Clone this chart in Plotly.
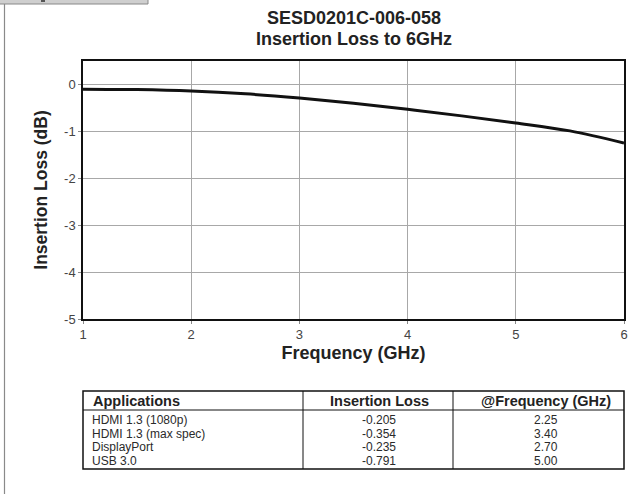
import plotly.graph_objects as go

# ---- data ----
freq_ghz = [1.0, 1.5, 2.0, 2.5, 3.0, 3.5, 4.0, 4.5, 5.0, 5.5, 6.0]
insertion_loss_db = [-0.10, -0.11, -0.14, -0.20, -0.29, -0.40, -0.53, -0.67, -0.82, -0.99, -1.25]

x_ticks = [1, 2, 3, 4, 5, 6]
y_ticks = [0, -1, -2, -3, -4, -5]

table_header = ["Applications", "Insertion Loss", "@Frequency (GHz)"]
applications = ["HDMI 1.3 (1080p)", "HDMI 1.3 (max spec)", "DisplayPort", "USB 3.0"]
app_loss = ["-0.205", "-0.354", "-0.235", "-0.791"]
app_freq = ["2.25", "3.40", "2.70", "5.00"]

title_lines = ["SESD0201C-006-058", "Insertion Loss to 6GHz"]

# ---- layout geometry (pixels) ----
W, H = 644, 494
L, R, T, B = 83, 20, 61, 175
PW = W - L - R
PH = H - T - B


def px(x):
    return (x - L) / PW


def py(y):
    return (H - B - y) / PH


FONT = "Liberation Sans"

fig = go.Figure()
fig.add_trace(go.Scatter(
    x=freq_ghz, y=insertion_loss_db, mode="lines",
    line=dict(color="#111111", width=3, shape="spline"),
    hoverinfo="skip", showlegend=False,
))

fig.update_layout(
    width=W, height=H,
    margin=dict(l=L, r=R, t=T, b=B),
    paper_bgcolor="white", plot_bgcolor="white",
    font=dict(family=FONT, color="#222"),
    showlegend=False,
)
fig.update_xaxes(
    range=[1, 6], tickvals=x_ticks, ticktext=[str(v) for v in x_ticks],
    showgrid=True, gridcolor="#a8a8a8", gridwidth=1, zeroline=False,
    showline=True, mirror=True, linecolor="#111", linewidth=1.5,
    ticks="outside", ticklen=3, tickcolor="#888",
    tickfont=dict(family=FONT, size=13, color="#444"),
    title=dict(text="<b>Frequency (GHz)</b>", font=dict(family=FONT, size=18, color="#222"), standoff=5),
)
fig.update_yaxes(
    range=[-5, 0.5], tickvals=y_ticks, ticktext=[str(v) for v in y_ticks],
    showgrid=True, gridcolor="#a8a8a8", gridwidth=1, zeroline=False,
    showline=True, mirror=True, linecolor="#111", linewidth=1.5,
    ticks="outside", ticklen=3, tickcolor="#888",
    tickfont=dict(family=FONT, size=13, color="#444"),
    title=dict(text="<b>Insertion Loss (dB)</b>", font=dict(family=FONT, size=17.5, color="#222"), standoff=12),
)

ann = []
# titles
for i, t in enumerate(title_lines):
    ann.append(dict(xref="paper", yref="paper", x=0.5, y=py(18 + 21 * i), text="<b>%s</b>" % t,
                    showarrow=False, xanchor="center", yanchor="middle",
                    font=dict(family=FONT, size=18, color="#222")))

# table
tb_left, tb_right = 83, 624
tb_top, tb_head, tb_bottom = 391, 410, 469
col_div = [303, 453]
row_centers = [420, 433.5, 447, 460.5]
col_centers = [379, 546]

shapes = [
    dict(type="rect", xref="paper", yref="paper", x0=px(tb_left), x1=px(tb_right), y0=py(tb_bottom), y1=py(tb_top),
         line=dict(color="#111", width=1.5), fillcolor="rgba(0,0,0,0)"),
    dict(type="line", xref="paper", yref="paper", x0=px(tb_left), x1=px(tb_right), y0=py(tb_head), y1=py(tb_head),
         line=dict(color="#111", width=1.2)),
]
for cx in col_div:
    shapes.append(dict(type="line", xref="paper", yref="paper", x0=px(cx), x1=px(cx), y0=py(tb_bottom), y1=py(tb_top),
                       line=dict(color="#111", width=1)))
# page decorations
shapes.append(dict(type="rect", xref="paper", yref="paper", x0=px(-2), x1=px(148), y0=py(4), y1=py(-2),
                   line=dict(color="#888", width=1), fillcolor="#cfcfcf", layer="above"))
shapes.append(dict(type="rect", xref="paper", yref="paper", x0=px(41), x1=px(45), y0=py(2), y1=py(-2),
                   line=dict(width=0), fillcolor="#555", layer="above"))
shapes.append(dict(type="line", xref="paper", yref="paper", x0=px(4.5), x1=px(4.5), y0=py(496), y1=py(4),
                   line=dict(color="#8a8a8a", width=1.2)))

head_y = (tb_top + tb_head) / 2 + 0.5
ann.append(dict(xref="paper", yref="paper", x=px(91), y=py(head_y), text="<b>%s</b>" % table_header[0],
                showarrow=False, xanchor="left", yanchor="middle", font=dict(family=FONT, size=14.5, color="#222")))
for j in range(2):
    ann.append(dict(xref="paper", yref="paper", x=px(col_centers[j]), y=py(head_y), text="<b>%s</b>" % table_header[j + 1],
                    showarrow=False, xanchor="center", yanchor="middle", font=dict(family=FONT, size=14.5, color="#222")))
for i in range(len(applications)):
    yy = py(row_centers[i])
    ann.append(dict(xref="paper", yref="paper", x=px(91), y=yy, text=applications[i], showarrow=False,
                    xanchor="left", yanchor="middle", borderpad=0, font=dict(family=FONT, size=12, color="#2a2a2a")))
    ann.append(dict(xref="paper", yref="paper", x=px(col_centers[0]), y=yy, text=app_loss[i], showarrow=False,
                    xanchor="center", yanchor="middle", borderpad=0, font=dict(family=FONT, size=12, color="#2a2a2a")))
    ann.append(dict(xref="paper", yref="paper", x=px(col_centers[1]), y=yy, text=app_freq[i], showarrow=False,
                    xanchor="center", yanchor="middle", borderpad=0, font=dict(family=FONT, size=12, color="#2a2a2a")))

fig.update_layout(annotations=ann, shapes=shapes)
fig.write_html("out.html", config={"displayModeBar": False},
               post_script="document.body.style.margin='0';document.body.style.overflow='hidden';")
